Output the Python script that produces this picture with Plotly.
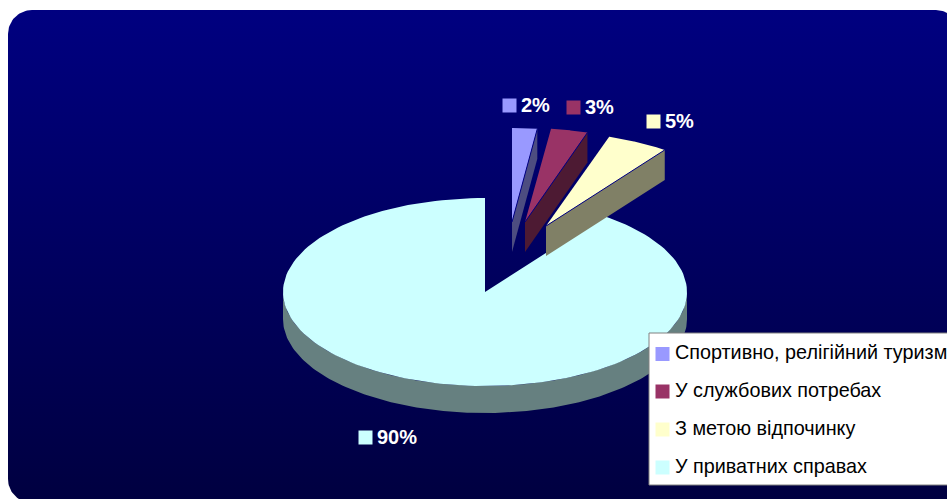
import numpy as np
import plotly.graph_objects as go

categories = ["Спортивно, релігійний туризм", "У службових потребах", "З метою відпочинку", "У приватних справах"]
values = [2, 3, 5, 90]
value_labels = ["2%", "3%", "5%", "90%"]
top_colors = ["#9999FF", "#993366", "#FFFFCC", "#CCFFFF"]
side_colors = ["#4D4D80", "#4D1A33", "#808066", "#668080"]

W, H = 947, 499
CX, CY, RX, RY = 485, 292, 202, 94
apex_offsets = [(27, -70), (40, -70), (61, -66), (0, 0)]
depths = [30, 30, 30, 27]
label_pos = [(509.5, 105.5), (573.5, 107.5), (653.5, 121.5), (365.5, 437.5)]
legend_y = [354, 391.5, 429.5, 467.5]

fig = go.Figure()


def poly(xs, ys, color, **kw):
    fig.add_trace(go.Scatter(x=xs, y=ys, mode="lines", fill="toself", fillcolor=color,
                             line=dict(width=0, color=color), hoverinfo="skip",
                             showlegend=False, **kw))


# rounded gradient panel
L, T, R, B, r = 8, 10, 960, 503, 24
t = np.linspace(0, np.pi / 2, 24)
px = np.r_[L + r - r * np.cos(t), R - r + r * np.sin(t), R - r + r * np.cos(t), L + r - r * np.sin(t)]
py = np.r_[T + r - r * np.sin(t), T + r - r * np.cos(t), B - r + r * np.sin(t), B - r + r * np.cos(t)]
fig.add_trace(go.Scatter(x=px, y=py, mode="lines", fill="toself", line=dict(width=0),
                         fillgradient=dict(type="vertical",
                                           colorscale=[[0, "#000040"], [1, "#000080"]]),
                         hoverinfo="skip", showlegend=False))

# pie geometry is derived from the values
total = sum(values)
edges = np.cumsum([0] + values) / total * 2 * np.pi


def arc(a0, a1, ox, oy, n=160):
    a = np.linspace(a0, a1, n)
    return CX + ox + RX * np.sin(a), CY + oy - RY * np.cos(a)


for i in [3, 0, 1, 2]:
    a0, a1 = edges[i], edges[i + 1]
    ox, oy = apex_offsets[i]
    d = depths[i]
    if i == 3:
        sx, sy = arc(np.pi / 2, 3 * np.pi / 2, ox, oy)
        poly(np.r_[sx, sx[::-1]], np.r_[sy, sy[::-1] + d], side_colors[i])
    else:
        tipx, tipy = arc(a1, a1, ox, oy, 1)
        ax, ay = CX + ox, CY + oy
        poly([tipx[0], tipx[0], ax, ax], [tipy[0], tipy[0] + d, ay + d, ay], side_colors[i])
    x, y = arc(a0, a1, ox, oy)
    poly(np.r_[CX + ox, x], np.r_[CY + oy, y], top_colors[i])
    if i != 3:
        fig.add_trace(go.Scatter(x=[CX + ox, x[-1]], y=[CY + oy, y[-1]], mode="lines",
                                 line=dict(color="#000080", width=1), hoverinfo="skip",
                                 showlegend=False))

# legend box
poly([649, 960, 960, 649, 649], [333, 333, 485, 485, 333], "#FFFFFF")
fig.add_trace(go.Scatter(x=[960, 649, 649, 960], y=[333, 333, 485, 485], mode="lines",
                         line=dict(color="#808080", width=1), hoverinfo="skip", showlegend=False))

# keys: legend and data labels
fig.add_trace(go.Scatter(x=[662.5] * 4, y=legend_y, mode="markers",
                         marker=dict(symbol="square", size=14, color=top_colors, line=dict(width=0)),
                         hoverinfo="skip", showlegend=False))
fig.add_trace(go.Scatter(x=[p[0] for p in label_pos], y=[p[1] for p in label_pos], mode="markers",
                         marker=dict(symbol="square", size=14, color=top_colors, line=dict(width=0)),
                         hoverinfo="skip", showlegend=False))

annotations = []
for name, y in zip(categories, legend_y):
    annotations.append(dict(x=672.5, y=y - 2, text=name, showarrow=False, xanchor="left", yanchor="middle",
                            xref="x", yref="y", align="left",
                            font=dict(family="Liberation Sans", size=19.8, color="#000000")))
for lab, (x, y) in zip(value_labels, label_pos):
    annotations.append(dict(x=x + 9.5, y=y - 1, text="<b>%s</b>" % lab, showarrow=False, xanchor="left",
                            yanchor="middle", xref="x", yref="y",
                            font=dict(family="Liberation Sans", size=20, color="#FFFFFF")))

fig.update_layout(width=W, height=H, margin=dict(l=0, r=0, t=0, b=0), autosize=False,
                  paper_bgcolor="#FFFFFF", plot_bgcolor="#FFFFFF", annotations=annotations,
                  xaxis=dict(range=[0, W], visible=False, fixedrange=True),
                  yaxis=dict(range=[H, 0], visible=False, fixedrange=True))
fig.write_html("out.html", config={"displayModeBar": False},
               post_script="document.body.style.margin='0';document.body.style.overflow='hidden';")
